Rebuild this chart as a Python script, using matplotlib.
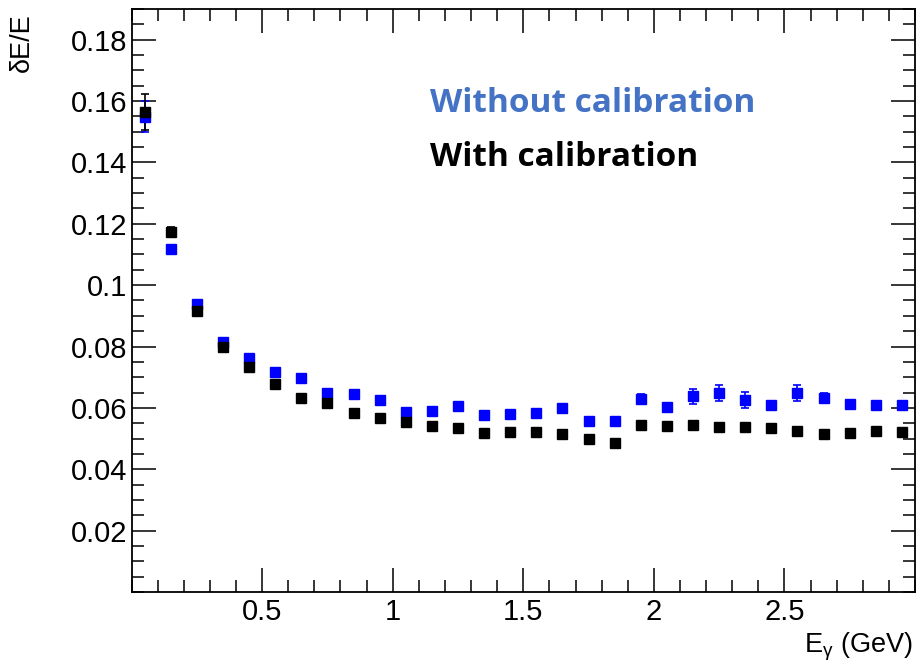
import numpy as np
import matplotlib
matplotlib.use("Agg")
import matplotlib.pyplot as plt
from matplotlib.ticker import MultipleLocator

# bin centres in E_gamma (GeV)
energy = [0.05, 0.15, 0.25, 0.35, 0.45, 0.55, 0.65, 0.75, 0.85, 0.95,
          1.05, 1.15, 1.25, 1.35, 1.45, 1.55, 1.65, 1.75, 1.85, 1.95,
          2.05, 2.15, 2.25, 2.35, 2.45, 2.55, 2.65, 2.75, 2.85, 2.95]

# dE/E without calibration (blue)
res_nocal = [0.1549, 0.1118, 0.0938, 0.0815, 0.0762, 0.0717, 0.0697, 0.0648, 0.0645, 0.0626,
             0.0587, 0.0590, 0.0606, 0.0577, 0.0580, 0.0583, 0.0600, 0.0557, 0.0557, 0.0630,
             0.0603, 0.0638, 0.0648, 0.0626, 0.0609, 0.0648, 0.0632, 0.0613, 0.0609, 0.0609]
err_nocal = [0.0050, 0.0010, 0.0010, 0.0010, 0.0010, 0.0010, 0.0010, 0.0010, 0.0010, 0.0010,
             0.0010, 0.0010, 0.0010, 0.0010, 0.0010, 0.0010, 0.0010, 0.0010, 0.0010, 0.0015,
             0.0010, 0.0025, 0.0025, 0.0025, 0.0010, 0.0025, 0.0015, 0.0012, 0.0010, 0.0015]

# dE/E with calibration (black)
res_cal = [0.1564, 0.1173, 0.0916, 0.0798, 0.0733, 0.0678, 0.0632, 0.0616, 0.0583, 0.0567,
           0.0554, 0.0541, 0.0534, 0.0518, 0.0521, 0.0521, 0.0515, 0.0499, 0.0485, 0.0544,
           0.0541, 0.0544, 0.0538, 0.0538, 0.0534, 0.0525, 0.0515, 0.0518, 0.0525, 0.0521]
err_cal = [0.0060, 0.0015, 0.0010, 0.0010, 0.0010, 0.0010, 0.0010, 0.0010, 0.0010, 0.0010,
           0.0010, 0.0010, 0.0010, 0.0010, 0.0010, 0.0010, 0.0010, 0.0010, 0.0010, 0.0010,
           0.0010, 0.0010, 0.0010, 0.0010, 0.0010, 0.0010, 0.0010, 0.0010, 0.0010, 0.0010]

xticks = [0.5, 1, 1.5, 2, 2.5]
xticklabels = ["0.5", "1", "1.5", "2", "2.5"]
yticks = [0.02, 0.04, 0.06, 0.08, 0.1, 0.12, 0.14, 0.16, 0.18]
yticklabels = ["0.02", "0.04", "0.06", "0.08", "0.1", "0.12", "0.14", "0.16", "0.18"]

plt.rcParams['font.family'] = ['Liberation Sans', 'DejaVu Sans']

fig = plt.figure(figsize=(9.17, 6.70), dpi=100)
ax = fig.add_axes([0.1435, 0.1164, 0.9978 - 0.1435, 0.9866 - 0.1164])

ax.errorbar(energy, res_nocal, yerr=err_nocal, fmt="s", color="#0000ff",
            markersize=6.5, elinewidth=1.2, capsize=3, capthick=1.2)
ax.errorbar(energy, res_cal, yerr=err_cal, fmt="s", color="black",
            markersize=6.5, elinewidth=1.2, capsize=3, capthick=1.2)

ax.set_xlim(0, 3)
ax.set_ylim(0, 0.19)
ax.xaxis.set_minor_locator(MultipleLocator(0.1))
ax.yaxis.set_minor_locator(MultipleLocator(0.005))
ax.set_xticks(xticks)
ax.set_xticklabels(xticklabels)
ax.set_yticks(yticks)
ax.set_yticklabels(yticklabels)

ax.tick_params(which="both", direction="in", top=True, right=True, labelsize=21, width=1.1)
ax.tick_params(which="major", length=17.5)
ax.tick_params(axis="y", which="major", pad=3)
ax.tick_params(axis="x", which="major", pad=4)
ax.tick_params(which="minor", length=8.7)
for s in ax.spines.values():
    s.set_linewidth(1.3)

ax.set_ylabel("δE/E", fontsize=19.5)
ax.yaxis.set_label_coords(-0.123, 0.993)
ax.yaxis.label.set_horizontalalignment("right")
ax.set_xlabel(r"E$_\mathregular{γ}$ (GeV)", fontsize=19.5)
ax.xaxis.set_label_coords(0.997, -0.066)
ax.xaxis.label.set_horizontalalignment("right")

ax.text(0.381, 0.823, "Without calibration", transform=ax.transAxes, color="#4472c4",
        fontsize=24, fontweight="bold", family=["Open Sans", "DejaVu Sans"], va="baseline")
ax.text(0.381, 0.730, "With calibration", transform=ax.transAxes, color="black",
        fontsize=24, fontweight="bold", family=["Open Sans", "DejaVu Sans"], va="baseline")

fig.savefig("out.png", dpi=100)
